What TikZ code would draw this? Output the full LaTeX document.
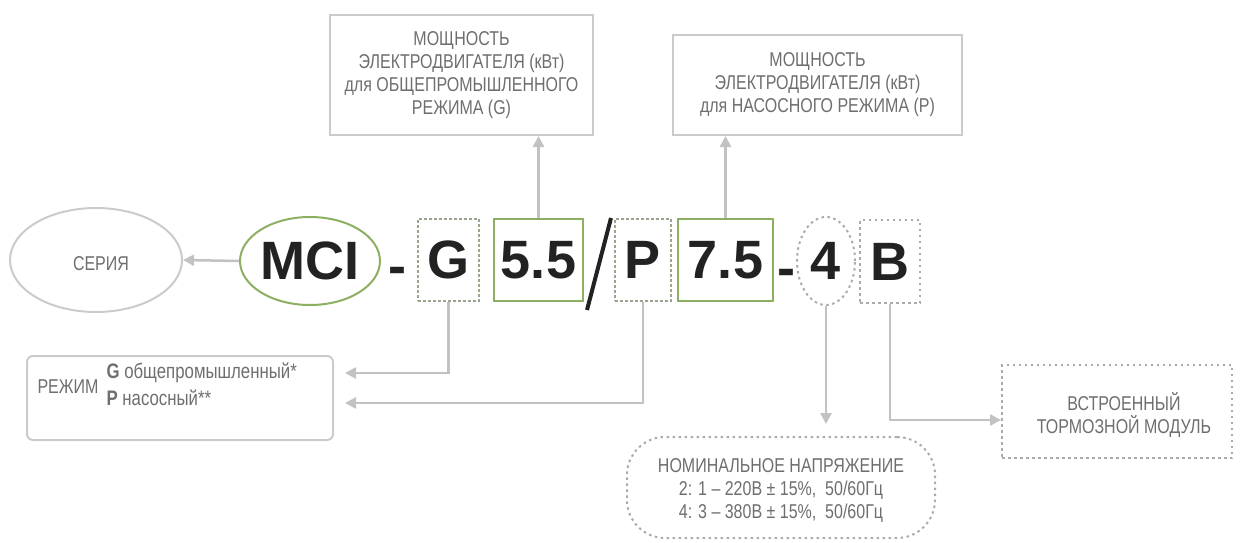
\documentclass[tikz,border=0pt]{standalone}
\usepackage{fontspec}
\setmainfont{Liberation Sans}
\newfontfamily\narrowfont[FakeStretch=0.8]{Liberation Sans}
\usetikzlibrary{arrows.meta,shapes.geometric}
\definecolor{boxgray}{HTML}{CBCBCB}
\definecolor{txtgray}{HTML}{6E6E6E}
\definecolor{grn}{HTML}{8DAF62}
\definecolor{dgrn}{HTML}{99A58C}
\definecolor{dotgray}{HTML}{ABABAB}
\definecolor{ink}{HTML}{222222}
\definecolor{arrgray}{HTML}{C2C2C2}
\tikzset{
  lbl/.style={font=\narrowfont\fontsize{20}{23}\selectfont, text=txtgray, align=center},
  infobox/.style={draw=boxgray, line width=2pt, lbl, inner sep=0pt},
  big/.style={font=\fontsize{54}{54}\selectfont\bfseries, text=ink, inner sep=0pt},
  solidbox/.style={big, draw=grn, line width=2.5pt},
  dashbox/.style={big, draw=dgrn, line width=2pt, dash pattern=on 3pt off 2pt},
  dotbox/.style={draw=dotgray, line width=2pt, dash pattern=on 2.5pt off 3.5pt},
  arr/.style={draw=arrgray, line width=2.5pt, -{Triangle[length=11pt,width=11pt]}},
}
\begin{document}
\begin{tikzpicture}[x=1pt,y=-1pt]
\useasboundingbox (0,0) rectangle (1240,543);
% top boxes
\node[infobox, minimum width=263pt, minimum height=120pt] (box1) at (461.5,75)
  {МОЩНОСТЬ\\ЭЛЕКТРОДВИГАТЕЛЯ (кВт)\\для ОБЩЕПРОМЫШЛЕННОГО\\РЕЖИМА (G)};
\node[infobox, minimum width=289pt, minimum height=100pt] (box2) at (817.5,85)
  {МОЩНОСТЬ\\ЭЛЕКТРОДВИГАТЕЛЯ (кВт)\\для НАСОСНОГО РЕЖИМА (P)};
% series
\node[ellipse, draw=boxgray, line width=2pt, minimum width=172pt, minimum height=104pt] (seria) at (96,260) {};
\node[lbl] (seriat) at (101,264) {СЕРИЯ};
% code
\node[ellipse, big, draw=grn, line width=2pt, minimum width=136pt, minimum height=88pt] (mci) at (310,261) {MCI};
\node[big] (dash1) at (397,276) {-};
\node[dashbox, minimum width=61pt, minimum height=82pt] (gbox) at (448.5,260) {G};
\node[solidbox, minimum width=89pt, minimum height=82pt] (s55) at (538.5,260) {5.5};
\coordinate (sl1) at (611,218);
\coordinate (sl2) at (587,310);
\draw[ink, line width=4pt] (sl1) -- (sl2);
\node[dashbox, minimum width=56pt, minimum height=82pt] (pbox) at (643,260) {P};
\node[solidbox, minimum width=95pt, minimum height=82pt] (s75) at (725.5,260) {7.5};
\node[big] (dash2) at (786,278) {-};
\node[ellipse, big, dotbox, minimum width=58pt, minimum height=88pt] (four) at (826,261) {4};
\node[big, dotbox, minimum width=60pt, minimum height=83pt] (bbox) at (890,261.5) {B};
% mode box
\node[draw=boxgray, line width=2pt, rounded corners=6pt, minimum width=306pt, minimum height=84pt] (rej) at (180,398) {};
\node[lbl, anchor=west, font=\narrowfont\fontsize{20}{24}\selectfont] (rejt) at (34,387) {РЕЖИМ};
\node[lbl, anchor=west, font=\narrowfont\fontsize{21}{24}\selectfont] (rejg) at (103,373) {\textbf{G} общепромышленный*};
\node[lbl, anchor=west, font=\narrowfont\fontsize{21}{24}\selectfont] (rejp) at (103,398) {\textbf{P} насосный**};
% voltage
\node[dotbox, rounded corners=38pt, minimum width=308pt, minimum height=101pt] (nom) at (781,487.5) {};
\node[lbl] (nomt) at (781,491) {НОМИНАЛЬНОЕ НАПРЯЖЕНИЕ\\2: 1 – 220В ± 15\%,\ \ 50/60Гц\\4: 3 – 380В ± 15\%,\ \ 50/60Гц};
% brake
\node[dotbox, minimum width=230pt, minimum height=93pt] (brk) at (1117,411.5) {};
\node[lbl] (brkt) at (1124,415) {ВСТРОЕННЫЙ\\ТОРМОЗНОЙ МОДУЛЬ};
% connectors
\coordinate (gend) at (345,373);
\coordinate (pend) at (345,403);
\coordinate (nomtip) at (826,424);
\coordinate (btip) at (1001,420);
\draw[arr] (s55.north) -- (s55.north |- box1.south);
\draw[arr] (s75.north) -- (s75.north |- box2.south);
\draw[arr] (mci.west) -- (seria.east);
\draw[arr] (gbox.south) |- (gend);
\draw[arr] (pbox.south) |- (pend);
\draw[arr] (four.south) -- (nomtip);
\draw[arr] (bbox.south) |- (btip);
\end{tikzpicture}
\end{document}
